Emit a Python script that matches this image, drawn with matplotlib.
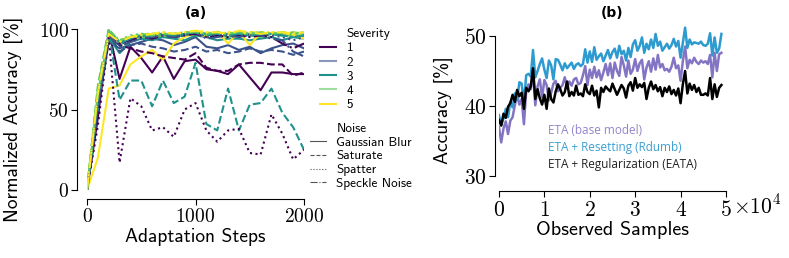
import matplotlib
matplotlib.use("Agg")
import matplotlib.pyplot as plt
from matplotlib.lines import Line2D
from matplotlib.ticker import FixedLocator, FuncFormatter

plt.rcParams['mathtext.fontset'] = 'cm'
SANS = ['cmss10', 'DejaVu Sans']

# ---------------- panel (a): normalized accuracy over adaptation steps
steps = [0, 100, 200, 300, 400, 500, 600, 700, 800, 900, 1000,
         1100, 1200, 1300, 1400, 1500, 1600, 1700, 1800, 1900, 2000]
severities = ['1', '2', '3', '4', '5']
sev_colors = ['#440154', '#3b528b', '#21918c', '#5ec962', '#fde725']
noises = ['Gaussian Blur', 'Saturate', 'Spatter', 'Speckle Noise']
noise_styles = ['-', '--', ':', '-.']

gaussian_blur = [
    [0, 45, 99, 69, 89, 82, 73, 83, 69, 80, 81, 75, 74, 72, 78, 70, 62, 73, 73, 72, 72],
    [0, 50, 92, 88, 90, 92, 94, 93, 90, 92, 95, 89, 88, 90, 87, 89, 85, 88, 90, 91, 88],
    [0, 55, 95, 85, 92, 94, 93, 95, 94, 93, 96, 95, 93, 94, 94, 93, 94, 95, 93, 95, 94],
    [0, 60, 96, 90, 94, 95, 95, 96, 95, 96, 97, 96, 96, 95, 97, 96, 95, 97, 96, 96, 96],
    [0, 20, 63, 65, 78, 83, 87, 81, 91, 95, 97.5, 95, 98.5, 91, 98.5, 90, 97.5, 97.5, 97.5, 96.5, 94],
]
saturate = [
    [0, 50, 96, 90, 88, 86, 85, 83, 82, 81, 85, 76, 74, 74, 78, 79, 79, 78, 78, 71, 73],
    [0, 55, 97, 86, 90, 91, 89, 88, 86, 87, 89, 86, 87, 85, 86, 88, 86, 87, 86, 84, 86],
    [0, 50, 99, 56, 68, 68, 52, 68, 54, 58, 79, 41, 37, 63, 37, 53, 54, 63, 48, 39, 25],
    [0, 65, 100, 92, 95, 96, 97, 96, 97, 96, 98, 97, 96, 97, 98, 97, 96, 97, 97, 98, 97],
    [0, 60, 95, 93, 95, 97, 96, 97, 96, 98, 97, 98, 97, 98, 97, 98, 98, 97, 98, 97, 98],
]
spatter = [
    [0, 40, 95, 17, 57, 52, 37, 39, 33, 50, 54, 37, 30, 37, 38, 23, 22, 47, 35, 19, 25],
    [0, 55, 97, 90, 94, 96, 96, 97, 95, 96, 98, 95, 96, 97, 95, 96, 97, 96, 95, 93, 95],
    [0, 58, 98, 92, 95, 96, 97, 97, 96, 97, 98, 97, 96, 97, 97, 96, 97, 97, 96, 95, 96],
    [0, 62, 97, 93, 96, 97, 97, 98, 97, 97, 98, 97, 98, 97, 97, 98, 97, 98, 97, 97, 97],
    [0, 58, 96, 91, 95, 96, 97, 98, 97, 98, 99, 98, 97, 98, 98, 97, 98, 98, 97, 98, 97],
]
speckle_noise = [
    [0, 50, 97, 91, 93, 95, 94, 96, 95, 96, 97, 95, 96, 95, 96, 95, 96, 95, 91, 88, 91],
    [0, 52, 96, 89, 92, 94, 95, 96, 95, 97, 98, 94, 95, 96, 95, 97, 96, 94, 93, 86, 83],
    [0, 57, 98, 91, 94, 96, 96, 97, 96, 97, 98, 96, 97, 96, 97, 96, 97, 97, 96, 95, 96],
    [0, 63, 99, 93, 95, 97, 96, 97, 97, 98, 98, 97, 98, 97, 98, 97, 98, 97, 98, 97, 98],
    [0, 60, 97, 92, 95, 96, 97, 98, 97, 98, 99, 98, 98, 97, 99, 98, 97, 98, 98, 97, 98],
]
panel_a = [gaussian_blur, saturate, spatter, speckle_noise]

# ---------------- panel (b): accuracy over observed samples
samples = [i * 500 for i in range(99)]
eta_base = [
    37.0, 34.8, 36.8, 37.8, 36.0, 37.9, 38.4, 40.1, 41.6, 40.2,
    41.0, 37.4, 42.2, 43.1, 42.4, 44.9, 40.1, 42.8, 43.8, 41.2,
    43.7, 43.0, 40.8, 41.9, 43.2, 43.6, 42.1, 42.6, 43.0, 44.1,
    42.6, 43.5, 42.9, 43.8, 44.0, 43.1, 43.3, 44.4, 45.7, 43.0,
    45.2, 44.0, 45.6, 44.1, 45.1, 43.7, 44.8, 46.0, 44.4, 46.1,
    44.0, 46.2, 45.0, 44.3, 47.0, 45.8, 44.2, 46.5, 44.6, 45.2,
    46.7, 45.0, 46.1, 46.6, 43.8, 45.5, 46.4, 44.9, 46.8, 45.2,
    47.3, 45.5, 46.0, 45.1, 45.3, 44.9, 45.6, 46.9, 45.4, 45.8,
    43.6, 46.4, 48.5, 45.4, 46.6, 46.1, 46.9, 46.3, 46.0, 46.5,
    46.2, 46.4, 46.0, 47.3, 44.1, 47.6, 45.0, 47.4, 47.6,
]
eta_rdumb = [
    38.7, 37.3, 38.2, 39.6, 38.4, 40.6, 39.8, 41.8, 40.9, 43.4,
    43.2, 40.4, 44.4, 44.6, 44.2, 48.0, 44.1, 45.0, 46.0, 46.8,
    45.2, 44.0, 46.5, 45.8, 43.8, 46.7, 46.6, 45.9, 45.1, 46.1,
    45.4, 45.8, 46.2, 45.3, 45.9, 46.1, 45.7, 46.0, 48.1, 46.2,
    47.8, 46.3, 48.4, 46.6, 47.1, 47.5, 46.4, 47.2, 48.0, 46.8,
    47.7, 48.2, 46.9, 48.6, 47.4, 47.9, 46.5, 48.3, 47.0, 48.8,
    49.4, 47.9, 48.6, 49.8, 47.6, 48.9, 48.1, 49.5, 48.3, 50.3,
    48.6, 49.2, 47.9, 48.4, 48.9, 48.2, 48.7, 49.6, 48.5, 49.3,
    46.9, 49.0, 51.2, 48.3, 49.5, 48.8, 49.1, 49.0, 48.9, 49.2,
    48.7, 48.6, 48.9, 50.4, 47.2, 49.8, 47.6, 48.2, 50.3,
]
eta_eata = [
    38.0, 37.2, 38.9, 38.3, 39.9, 40.4, 41.6, 40.6, 42.3, 41.4,
    41.9, 39.6, 42.6, 42.1, 42.8, 45.4, 41.0, 42.4, 41.1, 40.2,
    41.6, 39.6, 42.5, 41.0, 40.5, 42.1, 43.1, 42.4, 41.5, 42.0,
    43.5, 41.4, 42.0, 41.5, 42.9, 41.6, 41.8, 41.4, 43.1, 42.0,
    41.7, 42.9, 41.5, 42.2, 39.8, 42.6, 42.0, 42.8, 42.4, 42.1,
    43.2, 42.4, 41.6, 42.3, 43.0, 42.5, 41.2, 42.9, 43.4, 42.2,
    44.0, 42.6, 43.1, 42.7, 43.3, 41.0, 42.6, 43.5, 42.4, 43.0,
    42.1, 42.7, 41.4, 42.6, 42.0, 42.8, 41.7, 42.3, 41.5, 42.5,
    40.4, 43.1, 45.0, 41.8, 43.2, 42.3, 43.0, 42.0, 42.6, 41.6,
    41.6, 41.8, 41.5, 44.0, 41.0, 43.1, 41.3, 42.6, 43.0,
]
method_names = ['ETA (base model)', 'ETA + Resetting (Rdumb)', 'ETA + Regularization (EATA)']
method_colors = ['#8474c4', '#2e9bd0', '#000000']
label_colors = ['#9484cc', '#3aa0d2', '#222222']


def math_fmt(v, pos):
    return r'$%d$' % v


fig = plt.figure(figsize=(7.89, 2.58), dpi=100)

# ---- (a)
ax1 = fig.add_axes([0.1103, 0.2636, 0.2750, 0.6364])
for ni, series in enumerate(panel_a):
    for si, vals in enumerate(series):
        ax1.plot(steps, vals, color=sev_colors[si], ls=noise_styles[ni], lw=1.5)
ax1.set_xlim(0, 2000)
ax1.set_ylim(0, 102)
ax1.xaxis.set_major_locator(FixedLocator([0, 1000, 2000]))
ax1.yaxis.set_major_locator(FixedLocator([0, 50, 100]))
ax1.xaxis.set_major_formatter(FuncFormatter(math_fmt))
ax1.yaxis.set_major_formatter(FuncFormatter(math_fmt))
ax1.tick_params(labelsize=14, length=4, width=0.8, pad=2)
ax1.spines['left'].set_position(('outward', 7))
ax1.spines['bottom'].set_position(('outward', 6.5))
ax1.spines['left'].set_bounds(0, 100)
ax1.spines['bottom'].set_bounds(0, 2000)
for s in ['top', 'right']:
    ax1.spines[s].set_visible(False)
ax1.set_xlabel('Adaptation Steps', family=SANS, fontsize=14, labelpad=1)
ax1.set_ylabel('Normalized Accuracy [%]', family=SANS, fontsize=14)
ax1.yaxis.set_label_coords(-0.295, 0.432)
ax1.set_title('(a)', fontweight='bold', fontsize=10, pad=6)

blank = Line2D([], [], color='none')
sev_handles = [blank] + [Line2D([], [], color=c, lw=1.5, alpha=0.6 if i in (1, 3) else 1)
                         for i, c in enumerate(sev_colors)]
leg1 = fig.legend(sev_handles, ['Severity'] + severities, loc='upper left',
                  bbox_to_anchor=(320 / 789, 1 - 28 / 258), frameon=False,
                  borderpad=0, borderaxespad=0, handlelength=1.2, handletextpad=0.8,
                  labelspacing=0.15, prop={'family': SANS, 'size': 9.5})
noise_handles = [blank] + [Line2D([], [], color='#555555', lw=0.8, ls=s) for s in noise_styles]
leg2 = fig.legend(noise_handles, ['Noise'] + noises, loc='upper left',
                  bbox_to_anchor=(310 / 789, 1 - 122.5 / 258), frameon=False,
                  borderpad=0, borderaxespad=0, handlelength=1.2, handletextpad=0.8,
                  labelspacing=0.12, prop={'family': SANS, 'size': 9.5})

# ---- (b)
ax2 = fig.add_axes([0.6324, 0.3178, 0.2877, 0.5833])
for vals, c in zip([eta_base, eta_rdumb, eta_eata], method_colors):
    ax2.plot(samples, vals, color=c, lw=1.8)
ax2.set_xlim(0, 50000)
ax2.set_ylim(30, 51.5)
ax2.xaxis.set_major_locator(FixedLocator([0, 10000, 20000, 30000, 40000, 50000]))
ax2.yaxis.set_major_locator(FixedLocator([30, 40, 50]))
ax2.xaxis.set_major_formatter(FuncFormatter(lambda v, p: r'$%d$' % (v / 10000)))
ax2.yaxis.set_major_formatter(FuncFormatter(math_fmt))
ax2.tick_params(labelsize=15.5, length=4, width=0.8, pad=2)
ax2.spines['left'].set_position(('outward', 3))
ax2.spines['bottom'].set_position(('outward', 11))
ax2.spines['left'].set_bounds(30, 50)
ax2.spines['bottom'].set_bounds(0, 50000)
for s in ['top', 'right']:
    ax2.spines[s].set_visible(False)
ax2.text(1.031, -0.249, r'$\times10^{4}$', transform=ax2.transAxes, fontsize=15.5,
         ha='left', va='baseline')
ax2.set_xlabel('Observed Samples', family=SANS, fontsize=14.5, labelpad=1)
ax2.set_ylabel('Accuracy [%]', family=SANS, fontsize=14)
ax2.yaxis.set_label_coords(-0.203, 0.4385)
ax2.set_title('(b)', fontweight='bold', fontsize=10, pad=6)
ax2.legend([blank] * 3, method_names, loc='upper left', bbox_to_anchor=(0.216, 0.345),
           frameon=False, borderpad=0, borderaxespad=0, handlelength=0, handletextpad=0,
           labelspacing=0.35, labelcolor=label_colors,
           prop={'family': 'Open Sans', 'size': 8.5})

fig.savefig('out.png', dpi=100)
